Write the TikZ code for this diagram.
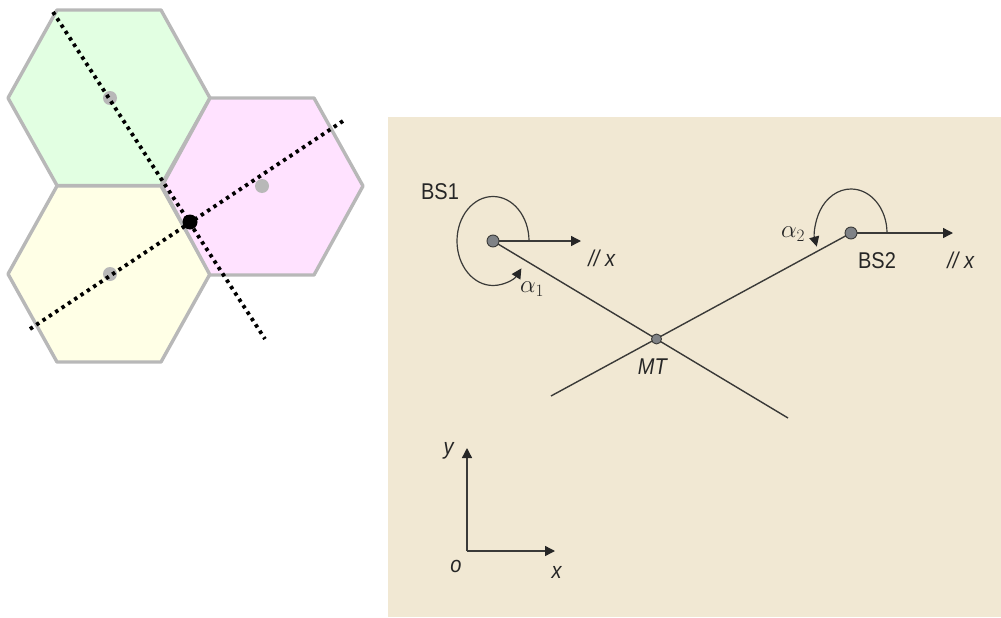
\documentclass[tikz,border=0pt]{standalone}
\usepackage{fontspec}
\setmainfont{Liberation Sans}
\usetikzlibrary{arrows.meta}
\definecolor{panel}{HTML}{F1E8D3}
\definecolor{hexline}{HTML}{B8B8B8}
\definecolor{hexgreen}{HTML}{E2FFE2}
\definecolor{hexpink}{HTML}{FFE2FF}
\definecolor{hexyellow}{HTML}{FFFFE6}
\definecolor{ink}{HTML}{3A3A38}
\definecolor{stationfill}{HTML}{7F8286}
\tikzset{
  hexcell/.style={draw=hexline,line width=3.4pt,line join=round},
  centredot/.style={circle,fill=hexline,inner sep=0pt,minimum size=14pt},
  sitedot/.style={circle,fill=black,inner sep=0pt,minimum size=15pt},
  bearing/.style={draw=black,line width=3.8pt,dash pattern=on 3.4pt off 4.2pt},
  stationdot/.style={circle,draw=ink,fill=stationfill,line width=0.9pt,inner sep=0pt,minimum size=12pt},
  mtdot/.style={stationdot,minimum size=10pt},
  ray/.style={draw=ink,line width=1.4pt},
  arrowed/.style={ray,-{Triangle[length=10pt,width=10pt,color=black!85]}},
  anglearc/.style={draw=ink,line width=1.2pt,-{Triangle[length=10pt,width=10pt,color=black!85]}},
  lab/.style={inner sep=0pt,text=black!85,yscale=1.14,font=\fontsize{20}{20}\selectfont},
  greek/.style={lab,yscale=0.88,font=\fontsize{26}{26}\selectfont},
}
\begin{document}
\begin{tikzpicture}[x=1pt,y=1pt]
\useasboundingbox (0,0) rectangle (1001,-618);
% hexagons
\draw[hexcell,fill=hexgreen] (57,-10) -- (161,-10) -- (210,-98) -- (161,-185.5) -- (57,-185.5) -- (8,-98) -- cycle;
\draw[hexcell,fill=hexyellow] (57,-186) -- (161,-186) -- (210,-274) -- (161,-362) -- (57,-362) -- (8,-274) -- cycle;
\draw[hexcell,fill=hexpink] (210,-98) -- (314,-98) -- (363,-186) -- (314,-275) -- (210,-275) -- (162,-186) -- cycle;
\node[centredot] (c1) at (110,-98) {};
\node[centredot] (c2) at (262,-186) {};
\node[centredot] (c3) at (110,-274) {};
\node[sitedot] (site) at (190,-222) {};
\coordinate (d1a) at (53,-12);
\coordinate (d1b) at (265,-339);
\coordinate (d2a) at (30,-329);
\coordinate (d2b) at (346,-119);
\draw[bearing] (d1a) -- (d1b);
\draw[bearing] (d2a) -- (d2b);
% panel
\fill[panel] (388,-117) rectangle (1001,-617);
\coordinate (end1) at (788,-418);
\coordinate (end2) at (551,-396);
\coordinate (px1) at (581,-241);
\coordinate (px2) at (953,-233);
\coordinate (org) at (467,-551);
\coordinate (ytip) at (467,-448);
\coordinate (xtip) at (555,-551);
\draw[ray] (493,-241) -- (end1);
\draw[ray] (851,-233) -- (end2);
\node[stationdot] (bs1) at (493,-241) {};
\node[stationdot] (bs2) at (851,-233) {};
\node[mtdot] (mt) at (656.5,-339) {};
\draw[arrowed] (bs1) -- (px1);
\draw[arrowed] (bs2) -- (px2);
\draw[arrowed] (org) -- (ytip);
\draw[arrowed] (org) -- (xtip);
\draw[anglearc] (529,-241) arc[start angle=0,end angle=322,x radius=36,y radius=44.5];
\draw[anglearc] (887,-233) arc[start angle=0,end angle=198,x radius=36,y radius=44];
% labels
\node[lab] (lbs1) at (440,-192) {BS1};
\node[lab] (lbs2) at (877,-261) {BS2};
\node[lab] (lmt) at (653,-367) {\textit{MT}};
\node[lab] (lx1) at (602,-258) {\textit{// x}};
\node[lab] (lx2) at (961,-260) {\textit{// x}};
\node[greek] (la1) at (532,-289) {$\alpha_1$};
\node[greek] (la2) at (793,-234) {$\alpha_2$};
\node[lab] (ly) at (449,-451) {\textit{y}};
\node[lab] (lo) at (456,-566) {\textit{o}};
\node[lab] (lx) at (557,-572) {\textit{x}};
\end{tikzpicture}
\end{document}
